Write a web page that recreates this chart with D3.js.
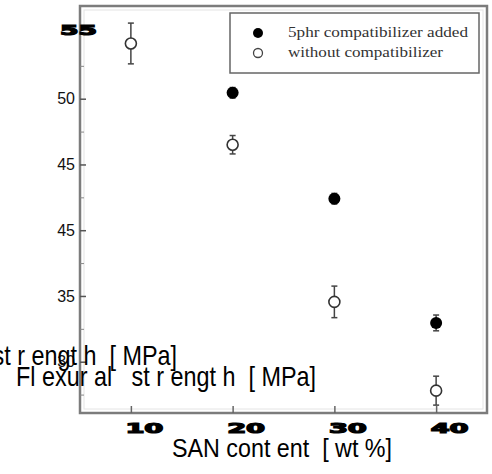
<!DOCTYPE html>
<html>
<head>
<meta charset="utf-8">
<script src="https://cdn.jsdelivr.net/npm/d3@7"></script>
<style>
  body { margin: 0; background: #fff; }
  text { white-space: pre; }
</style>
</head>
<body>
<div id="chart"></div>
<script>
// Data
const sanContent = [10, 20, 30, 40];
const filledX = [20, 30, 40];
const filledY = [50.45, 42.4, 32.95];
const filledErr = [0.4, 0.4, 0.6];
const openY = [54.2, 46.5, 34.55, 27.8];
const openErr = [1.55, 0.7, 1.2, 1.1];

const yTicks = [55, 50, 45, 40, 35, 30];
const yTickLabels = ['55', '50', '45', '45', '35', '30'];
const yMinorTicks = [52.5, 47.5, 42.5, 37.5, 32.5, 27.5];
const xTickLabels = ['10', '20', '30', '40'];
const legendLabels = ['5phr compatibilizer added', 'without compatibilizer'];

// Dimensions
const width = 492, height = 474;
const frame = { left: 80, right: 487, top: 6, bottom: 413 };

const svg = d3.select('#chart')
  .append('svg')
  .attr('width', width)
  .attr('height', height);

// Scales
const x = d3.scaleLinear().domain([5, 45]).range([frame.left, frame.right]);
const y = d3.scaleLinear().domain([26.1, 57.05]).range([frame.bottom, frame.top]);

// frame, faint inner line first
svg.append('rect')
  .attr('x', frame.left + 4).attr('y', frame.top + 4)
  .attr('width', frame.right - frame.left - 8)
  .attr('height', frame.bottom - frame.top - 8)
  .attr('fill', 'none').attr('stroke', '#e4e4e4').attr('stroke-width', 1);

svg.append('rect')
  .attr('x', frame.left).attr('y', frame.top)
  .attr('width', frame.right - frame.left)
  .attr('height', frame.bottom - frame.top)
  .attr('fill', 'none').attr('stroke', '#7c7c7c').attr('stroke-width', 2.5);

// Axes
const yAxis = svg.append('g')
  .attr('transform', `translate(${frame.left},0)`)
  .call(d3.axisLeft(y).tickValues(yTicks).tickSize(-6).tickPadding(5)
    .tickFormat((d, i) => yTickLabels[i]));
yAxis.select('.domain').remove();
yAxis.selectAll('line').attr('stroke', '#555').attr('stroke-width', 1.5);
yAxis.selectAll('text')
  .attr('font-family', 'Liberation Sans, Arial, sans-serif')
  .attr('font-size', 16).attr('fill', '#111');
// the top label came out as a heavy stretched glyph
yAxis.selectAll('.tick').filter(d => d === 55).select('text')
  .attr('text-anchor', 'start')
  .attr('x', 60 - frame.left).attr('dy', null).attr('y', 2)
  .attr('font-family', 'DejaVu Sans, sans-serif')
  .attr('font-weight', 'bold').attr('font-size', 14)
  .attr('textLength', 37).attr('lengthAdjust', 'spacingAndGlyphs')
  .attr('fill', '#000').attr('stroke', '#000').attr('stroke-width', 1.2);

const yMinor = svg.append('g')
  .attr('transform', `translate(${frame.left},0)`)
  .call(d3.axisLeft(y).tickValues(yMinorTicks).tickSize(-4).tickFormat(''));
yMinor.select('.domain').remove();
yMinor.selectAll('line').attr('stroke', '#888').attr('stroke-width', 1);

const xAxis = svg.append('g')
  .attr('transform', `translate(0,${frame.bottom})`)
  .call(d3.axisBottom(x).tickValues(sanContent).tickSize(-7).tickPadding(0)
    .tickFormat((d, i) => xTickLabels[i]));
xAxis.select('.domain').remove();
xAxis.selectAll('line').attr('stroke', '#666').attr('stroke-width', 1.5);
xAxis.selectAll('text')
  .attr('text-anchor', 'start')
  .attr('x', -6).attr('dy', null).attr('y', 20)
  .attr('font-family', 'DejaVu Sans, sans-serif')
  .attr('font-weight', 'bold').attr('font-size', 14)
  .attr('textLength', 38).attr('lengthAdjust', 'spacingAndGlyphs')
  .attr('fill', '#000').attr('stroke', '#000').attr('stroke-width', 1.2);

// Error bars
function errorBars(g, xs, ys, errs) {
  const bars = g.selectAll('g.err')
    .data(xs.map((d, i) => ({ x: d, y: ys[i], e: errs[i] })))
    .join('g').attr('class', 'err')
    .attr('stroke', '#444').attr('stroke-width', 1.5);
  bars.append('line')
    .attr('x1', d => x(d.x)).attr('x2', d => x(d.x))
    .attr('y1', d => y(d.y + d.e)).attr('y2', d => y(d.y - d.e));
  bars.append('line')
    .attr('x1', d => x(d.x) - 3).attr('x2', d => x(d.x) + 3)
    .attr('y1', d => y(d.y + d.e)).attr('y2', d => y(d.y + d.e));
  bars.append('line')
    .attr('x1', d => x(d.x) - 3).attr('x2', d => x(d.x) + 3)
    .attr('y1', d => y(d.y - d.e)).attr('y2', d => y(d.y - d.e));
}

const pts = svg.append('g');
errorBars(pts.append('g'), sanContent, openY, openErr);
errorBars(pts.append('g'), filledX, filledY, filledErr);

pts.append('g').selectAll('circle')
  .data(sanContent)
  .join('circle')
  .attr('cx', d => x(d))
  .attr('cy', (d, i) => y(openY[i]))
  .attr('r', 5.5)
  .attr('fill', '#fff').attr('stroke', '#333').attr('stroke-width', 1.6);

pts.append('g').selectAll('circle')
  .data(filledX)
  .join('circle')
  .attr('cx', d => x(d))
  .attr('cy', (d, i) => y(filledY[i]))
  .attr('r', 6)
  .attr('fill', '#000');

// Legend
const legend = svg.append('g');
legend.append('rect')
  .attr('x', 230).attr('y', 13).attr('width', 249).attr('height', 60)
  .attr('fill', '#fff').attr('stroke', '#666').attr('stroke-width', 1.5);
legend.append('circle').attr('cx', 258).attr('cy', 33).attr('r', 5).attr('fill', '#000');
legend.append('circle').attr('cx', 258).attr('cy', 53).attr('r', 4.5)
  .attr('fill', '#fff').attr('stroke', '#444').attr('stroke-width', 1.3);
legend.selectAll('text')
  .data(legendLabels)
  .join('text')
  .attr('x', 288)
  .attr('y', (d, i) => 37 + i * 20)
  .attr('font-family', 'Liberation Serif, Times New Roman, serif')
  .attr('font-size', 14)
  .attr('fill', '#333')
  .attr('textLength', (d, i) => i === 0 ? 180 : 155)
  .attr('lengthAdjust', 'spacingAndGlyphs')
  .text(d => d);

// Axis titles
const titleFont = 'Liberation Sans, Arial, sans-serif';
svg.append('text')
  .attr('x', 172).attr('y', 457)
  .attr('font-family', titleFont).attr('font-size', 25)
  .attr('textLength', 220).attr('lengthAdjust', 'spacingAndGlyphs')
  .text('SAN cont ent  [ wt %]');

svg.selectAll('text.ytitle')
  .data([[-123, 365], [16, 386]])
  .join('text').attr('class', 'ytitle')
  .attr('x', d => d[0]).attr('y', d => d[1])
  .attr('font-family', titleFont).attr('font-size', 28)
  .attr('textLength', 300).attr('lengthAdjust', 'spacingAndGlyphs')
  .text('Fl exur al   st r engt h  [ MPa]');
</script>
</body>
</html>
